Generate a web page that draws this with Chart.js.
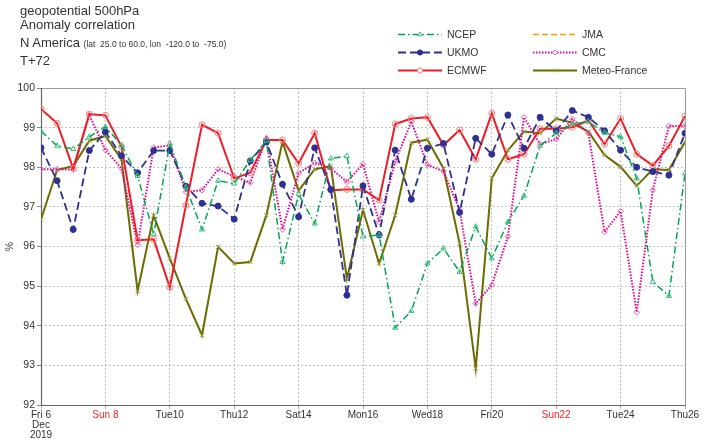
<!DOCTYPE html>
<html><head><meta charset="utf-8">
<script src="https://cdn.jsdelivr.net/npm/chart.js@4"></script>
<style>
html,body{margin:0;padding:0;background:#fff;}
#wrap{position:relative;width:705px;height:446px;overflow:hidden;font-family:"Liberation Sans",Arial,Helvetica,sans-serif;color:#333;}
canvas{position:absolute;left:0;top:0;}
.t{position:absolute;left:20px;font-size:13px;white-space:pre;line-height:13px;}
.small{font-size:8.5px;}
</style></head><body>
<div id="wrap">
<canvas id="c" width="705" height="446"></canvas>
<div class="t" style="top:4px">geopotential 500hPa</div>
<div class="t" style="top:18px">Anomaly correlation</div>
<div class="t" style="top:36px">N America <span class="small">(lat  25.0 to 60.0, lon  -120.0 to  -75.0)</span></div>
<div class="t" style="top:54px">T+72</div>
</div>
<script>
// x index = 12-hour steps from Fri 6 Dec 2019 00 UTC (0) to Thu 26 Dec (40)
const tickLabels = ["Fri 6\nDec\n2019","Sun 8","Tue10","Thu12","Sat14","Mon16","Wed18","Fri20","Sun22","Tue24","Thu26"];
const redTicks = ["Sun 8","Sun22"];

const ncep = [98.91,98.54,98.46,98.77,99.02,98.56,97.78,96.31,98.60,97.50,96.43,97.66,97.59,98.18,98.67,95.61,97.32,96.58,98.22,98.28,96.25,96.29,93.95,94.37,95.57,95.95,95.36,96.50,95.70,96.62,97.28,98.54,98.86,99.09,99.15,98.87,98.77,97.72,95.11,94.75,97.85];
const ukmo = [98.49,97.66,96.43,98.42,98.89,98.29,97.86,98.42,98.42,97.52,97.09,97.02,96.69,98.16,98.64,97.57,96.75,98.49,97.44,94.77,97.53,96.29,98.43,97.19,98.48,98.60,96.86,98.73,98.33,99.32,98.48,99.26,98.92,99.43,99.26,98.92,98.43,98.00,97.89,97.80,98.86];
const ecmwf = [99.47,99.11,97.97,99.34,99.31,98.52,96.16,96.18,94.97,97.04,99.07,98.86,97.72,97.86,98.69,98.69,98.10,98.86,97.42,97.44,97.44,97.17,99.09,99.23,99.26,98.56,98.94,98.20,99.36,98.20,98.33,98.97,98.97,99.01,99.18,98.58,99.23,98.33,98.04,98.54,99.29];
const jma = [];
const cmc = [97.95,97.95,97.94,99.32,98.43,97.97,96.04,98.50,98.55,97.38,97.42,97.95,97.77,97.61,98.73,96.43,97.85,98.11,97.97,97.63,98.08,96.62,98.14,99.15,98.06,97.90,96.92,94.56,95.03,96.25,99.26,98.58,98.71,99.22,98.86,96.37,96.89,94.34,97.42,99.04,99.04];
const meteoFrance = [96.68,97.93,98.03,98.67,98.79,98.20,94.88,96.78,95.70,94.68,93.76,95.99,95.57,95.61,96.79,98.64,97.41,97.95,98.03,95.19,96.92,95.57,96.79,98.62,98.70,97.97,96.08,92.92,97.72,98.43,98.90,98.86,99.23,99.12,98.90,98.31,98.01,97.53,97.95,97.93,98.64];

const pts = a => a.map((v,i)=>({x:i,y:v}));

const series = [
  {label:'NCEP', data:ncep, color:'#00a651', mk:'#3cc080', dash:[7,3,1.5,3], width:1.5, style:'triangle', fill:false, r:3},
  {label:'UKMO', data:ukmo, color:'#2e3192', mk:'#2e3192', dash:[8,4], width:1.8, style:'circle', fill:true, r:3},
  {label:'ECMWF', data:ecmwf, color:'#ee1c25', mk:'#ff7a7a', dash:[], width:2, style:'circle', fill:false, r:3},
  {label:'JMA', data:jma, color:'#ff9900', mk:'#ffb040', dash:[6,3], width:1.5, style:'line', fill:false, r:3},
  {label:'CMC', data:cmc, color:'#ec008c', mk:'#f060b0', dash:[1.5,1.5], width:2, style:'rectRot', fill:false, r:2.8},
  {label:'Meteo-France', data:meteoFrance, color:'#6b6b00', mk:'#9aa040', dash:[], width:2, style:'crossRot', fill:false, r:3}
];

const legendPos = {
  'NCEP':[398,34.5], 'UKMO':[398,52.5], 'ECMWF':[398,70.5],
  'JMA':[533,34.5], 'CMC':[533,52.5], 'Meteo-France':[533,70.5]
};

const boxPlugin = {
  id:'box',
  beforeDatasetsDraw(chart){
    const {ctx, chartArea:a} = chart;
    ctx.save();
    ctx.lineWidth = 1;
    ctx.strokeStyle = '#9a9a9a';
    ctx.beginPath();
    ctx.moveTo(a.left, a.top+0.5); ctx.lineTo(a.right+0.5, a.top+0.5); ctx.lineTo(a.right+0.5, a.bottom);
    ctx.stroke();
    ctx.strokeStyle = '#666';
    ctx.lineWidth = 1.2;
    ctx.beginPath();
    ctx.moveTo(a.left+0.5, a.top); ctx.lineTo(a.left+0.5, a.bottom+0.5); ctx.lineTo(a.right+0.5, a.bottom+0.5);
    ctx.stroke();
    ctx.restore();
  },
  afterDraw(chart){
    const ctx = chart.ctx;
    ctx.save();
    series.forEach(s=>{
      const [x,y] = legendPos[s.label];
      ctx.strokeStyle = s.color;
      ctx.lineWidth = Math.min(s.width, 1.8);
      ctx.setLineDash(s.dash);
      ctx.beginPath(); ctx.moveTo(x,y); ctx.lineTo(x+44,y); ctx.stroke();
      ctx.setLineDash([]);
      if (s.style !== 'line') {
        ctx.lineWidth = 1;
        ctx.strokeStyle = s.mk;
        ctx.fillStyle = s.fill ? s.mk : '#fff';
        Chart.helpers.drawPoint(ctx, {pointStyle:s.style, radius:2.6, borderWidth:1}, x+22, y);
      }
      ctx.fillStyle = '#333';
      ctx.font = '10.5px "Liberation Sans", Arial, sans-serif';
      ctx.textBaseline = 'middle';
      ctx.fillText(s.label, x+49, y+0.5);
    });
    ctx.restore();
  }
};

new Chart(document.getElementById('c'), {
  type:'line',
  data:{
    datasets: series.map(s=>({
      label:s.label,
      data:pts(s.data),
      borderColor:s.color,
      borderWidth:s.width,
      borderDash:s.dash,
      pointStyle:s.style==='line'?false:s.style,
      pointRadius:s.r,
      pointBorderColor:s.mk,
      pointBorderWidth:1,
      pointBackgroundColor:s.fill?s.mk:'rgba(255,255,255,0)',
      tension:0,
      fill:false
    }))
  },
  options:{
    responsive:false,
    devicePixelRatio:1,
    animation:false,
    layout:{padding:{top:88,right:20,left:0,bottom:0}},
    plugins:{legend:{display:false},tooltip:{enabled:false},title:{display:false}},
    scales:{
      x:{
        type:'linear', min:0, max:40,
        afterBuildTicks(s){ s.ticks = tickLabels.map((_,i)=>({value:i*4})); },
        afterFit(s){ s.height = 41; },
        border:{display:false, dash:[2,2]},
        grid:{color:'#c4c4c4', lineWidth:1, tickLength:4, tickColor:'#b8a8c8', drawOnChartArea:true},
        ticks:{
          autoSkip:false, maxRotation:0, padding:1,
          color:(c)=>{ const l = tickLabels[Math.round(c.tick.value/4)]; return redTicks.includes(l)?'#ff2020':'#333'; },
          font:{family:'"Liberation Sans", Arial, sans-serif', size:10, lineHeight:1.0},
          callback:(v)=>tickLabels[Math.round(v/4)].split('\n')
        }
      },
      y:{
        min:92, max:100,
        afterFit(s){ s.width = 41; },
        border:{display:false, dash:[2,2]},
        grid:{color:'#c4c4c4', lineWidth:1, tickLength:4, tickColor:'#888'},
        ticks:{stepSize:1, color:'#333', padding:2, font:{family:'"Liberation Sans", Arial, sans-serif', size:10.5}},
        title:{display:true, text:'%', color:'#333', padding:{top:4,bottom:0}, font:{family:'"Liberation Sans", Arial, sans-serif', size:10.5}}
      }
    }
  },
  plugins:[boxPlugin]
});
</script>
</body></html>
